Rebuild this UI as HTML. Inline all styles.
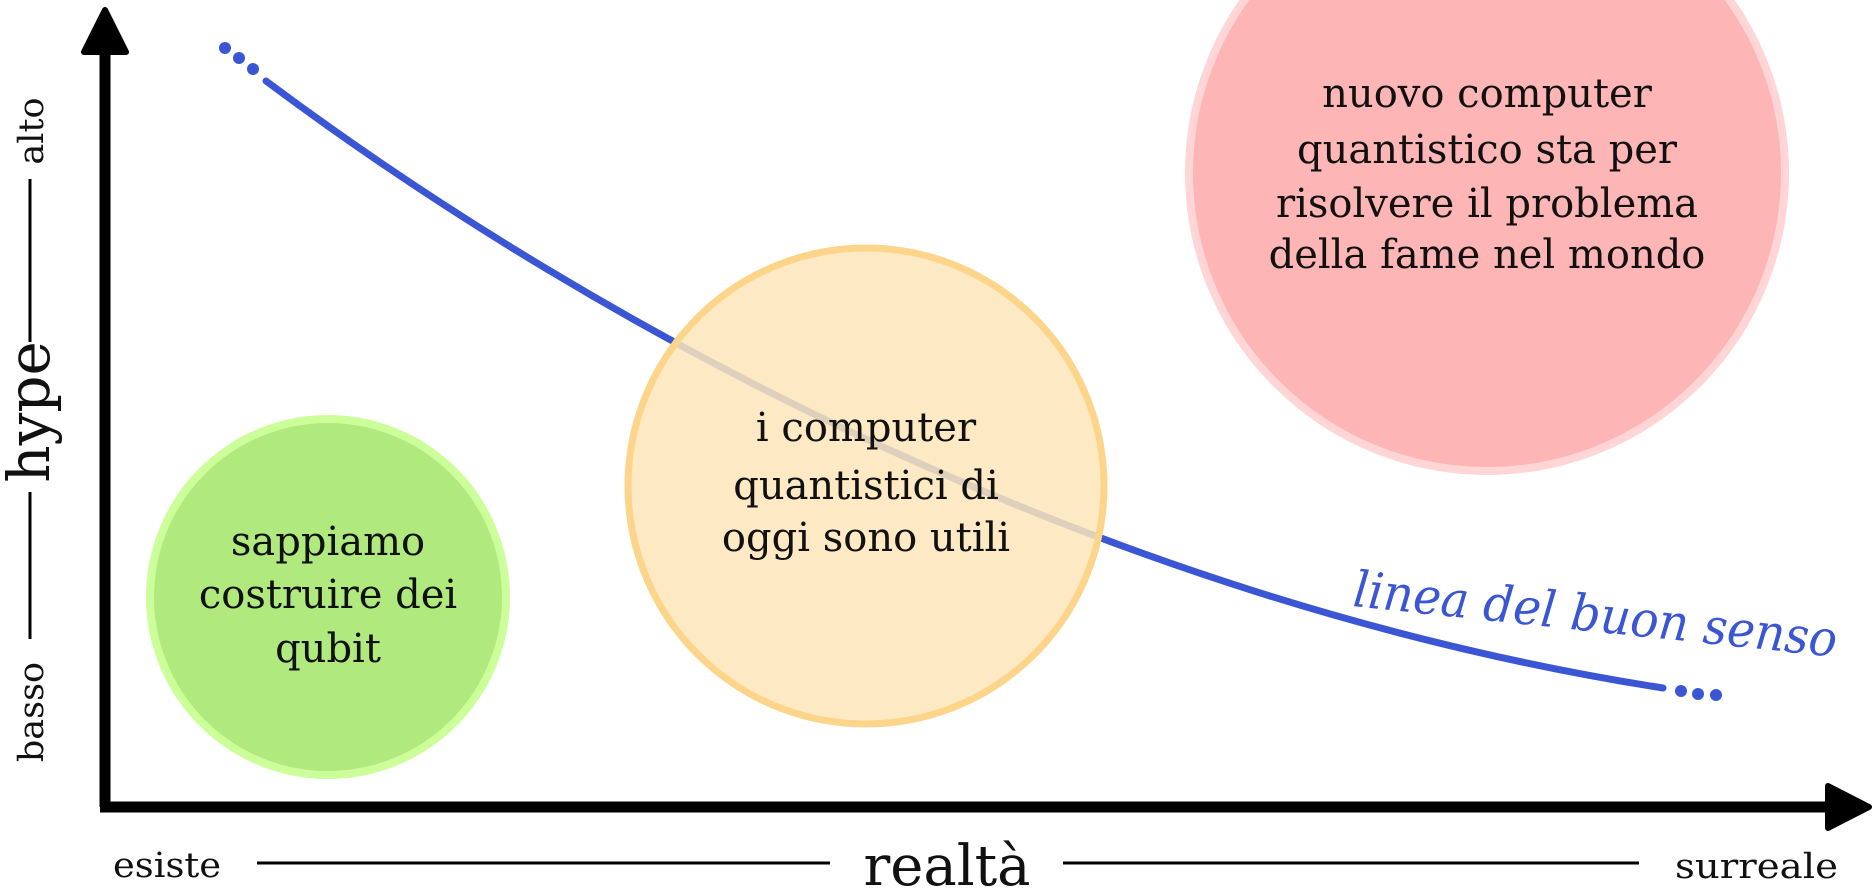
<!DOCTYPE html>
<html><head><meta charset="utf-8"><style>
html,body{margin:0;padding:0;background:#fff;}
svg{display:block;}
text{font-family:"DejaVu Serif","Liberation Serif",serif;}
</style></head><body>
<svg width="1873" height="893" viewBox="0 0 1873 893" xmlns="http://www.w3.org/2000/svg">
<path d="M266 81 C 600 330, 1100 600, 1663 688" fill="none" stroke="#3a56d4" stroke-width="7" stroke-linecap="round"/>
<circle cx="225" cy="48" r="6" fill="#3a56d4"/>
<circle cx="239" cy="58" r="6" fill="#3a56d4"/>
<circle cx="253" cy="69" r="6" fill="#3a56d4"/>
<circle cx="1681" cy="691" r="6" fill="#3a56d4"/>
<circle cx="1698" cy="694" r="6" fill="#3a56d4"/>
<circle cx="1716" cy="695" r="6" fill="#3a56d4"/>
<circle cx="328" cy="597" r="178" fill="#b0e97d" stroke="#ccff99" stroke-width="8"/>
<circle cx="866" cy="486" r="238" fill="#fde5b8" fill-opacity="0.85" stroke="#fdd58a" stroke-width="7"/>
<circle cx="1487" cy="173" r="298" fill="#feb5b5" stroke="#ffd5d5" stroke-width="8"/>
<g font-size="40" text-anchor="middle" fill="#111">
<text x="328" y="555">sappiamo</text>
<text x="328" y="608">costruire dei</text>
<text x="328" y="662">qubit</text>
<text x="866" y="441">i computer</text>
<text x="866" y="499">quantistici di</text>
<text x="866" y="551">oggi sono utili</text>
<text x="1487" y="107">nuovo computer</text>
<text x="1487" y="163">quantistico sta per</text>
<text x="1487" y="217">risolvere il problema</text>
<text x="1487" y="268">della fame nel mondo</text>
</g>
<text x="1352" y="606" font-size="50" font-style="italic" fill="#3a56d4" textLength="486" lengthAdjust="spacingAndGlyphs" transform="rotate(6 1352 606)">linea del buon senso</text>
<line x1="105" y1="40" x2="105" y2="807" stroke="#000" stroke-width="11"/>
<path d="M105 10 L126 52 L84 52 Z" fill="#000" stroke="#000" stroke-width="6" stroke-linejoin="round"/>
<line x1="100" y1="807" x2="1835" y2="807" stroke="#000" stroke-width="11"/>
<path d="M1869 807 L1828 786 L1828 828 Z" fill="#000" stroke="#000" stroke-width="6" stroke-linejoin="round"/>
<g fill="#111">
<text font-size="35" text-anchor="middle" transform="translate(43 131) rotate(-90)">alto</text>
<text font-size="58" text-anchor="middle" transform="translate(49 412) rotate(-90)">hype</text>
<text font-size="35" text-anchor="middle" transform="translate(43 712) rotate(-90)">basso</text>
</g>
<line x1="30" y1="179" x2="30" y2="342" stroke="#000" stroke-width="3"/>
<line x1="30" y1="492" x2="30" y2="639" stroke="#000" stroke-width="3"/>
<g fill="#111">
<text x="113" y="877" font-size="35" textLength="108" lengthAdjust="spacingAndGlyphs">esiste</text>
<text x="947" y="885" font-size="56" text-anchor="middle">realtà</text>
<text x="1675" y="878" font-size="35" textLength="163" lengthAdjust="spacingAndGlyphs">surreale</text>
</g>
<line x1="257" y1="863" x2="830" y2="863" stroke="#000" stroke-width="3"/>
<line x1="1063" y1="863" x2="1639" y2="863" stroke="#000" stroke-width="3"/>
</svg>
</body></html>
